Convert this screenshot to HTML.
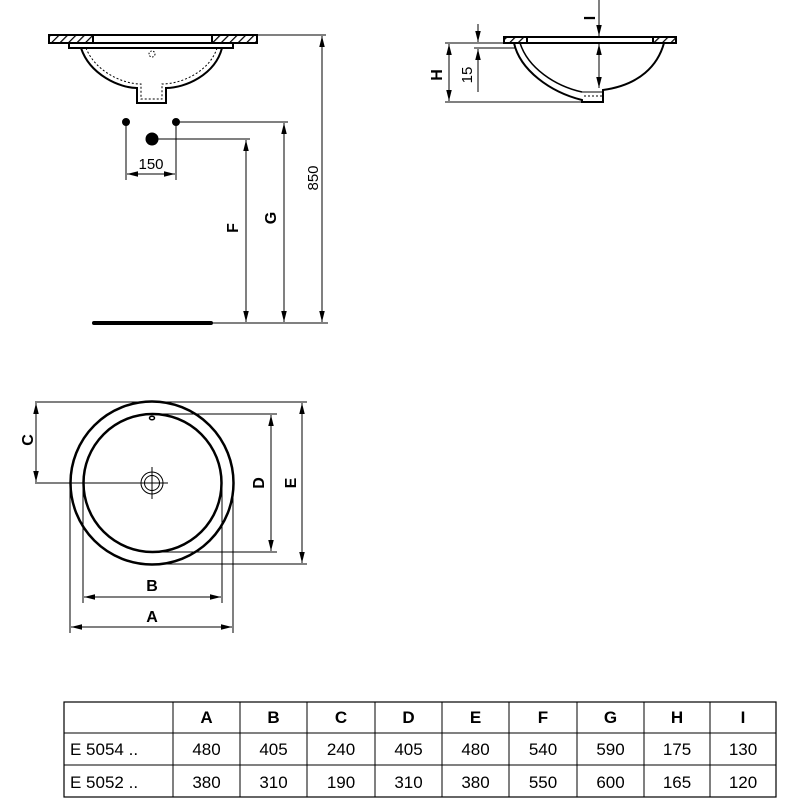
<!DOCTYPE html>
<html><head><meta charset="utf-8"><style>
body{margin:0;background:#fff}
svg{display:block}
text{font-family:"Liberation Sans",sans-serif;fill:#000}
</style></head><body>
<svg width="800" height="800" viewBox="0 0 800 800">
<defs>
<marker id="a" viewBox="0 0 10 10" refX="10" refY="5" markerWidth="11" markerHeight="11" markerUnits="userSpaceOnUse" orient="auto-start-reverse"><path d="M0,2.5 L10,5 L0,7.5 z" fill="#000"/></marker>
<pattern id="h" width="6" height="6" patternUnits="userSpaceOnUse" patternTransform="rotate(45)"><rect width="6" height="6" fill="#fff"/><line x1="0" y1="0" x2="0" y2="6" stroke="#000" stroke-width="2.5"/></pattern>
</defs>
<g stroke="#000" fill="none" stroke-width="1">
<rect x="49" y="35" width="208" height="8" stroke-width="2"/>
<rect x="49" y="35" width="44" height="8" fill="url(#h)" stroke-width="2"/>
<rect x="212" y="35" width="45" height="8" fill="url(#h)" stroke-width="2"/>
<rect x="69" y="43" width="164" height="5" stroke-width="2"/>
<path d="M81,48 C90,75 120,88 137,88 L137,103 L166,103 L166,88 C185,88 215,75 222,48" stroke-width="2"/>
<path d="M86,48 C95,71 122,84 141,84 L141,99 L162,99 L162,84 C182,84 210,71 217,48" stroke-dasharray="2,2"/>
<circle cx="152" cy="54" r="3" stroke-dasharray="1.5,1.5"/>
<circle cx="126" cy="122" r="3.5" fill="#000"/>
<circle cx="176" cy="122" r="3.5" fill="#000"/>
<circle cx="152" cy="139" r="6" fill="#000"/>
<line x1="126" y1="122" x2="126" y2="180"/>
<line x1="176" y1="122" x2="176" y2="180"/>
<line x1="127" y1="174" x2="175" y2="174" marker-start="url(#a)" marker-end="url(#a)"/>
<line x1="176" y1="122" x2="288" y2="122"/>
<line x1="152" y1="139" x2="250" y2="139"/>
<line x1="246" y1="140" x2="246" y2="322" marker-start="url(#a)" marker-end="url(#a)"/>
<line x1="284" y1="123" x2="284" y2="322" marker-start="url(#a)" marker-end="url(#a)"/>
<line x1="322" y1="36" x2="322" y2="322" marker-start="url(#a)" marker-end="url(#a)"/>
<line x1="257" y1="35" x2="326" y2="35"/>
<line x1="211" y1="323" x2="328" y2="323"/>
<line x1="94" y1="323" x2="211" y2="323" stroke-width="4" stroke-linecap="round"/>
<rect x="504" y="37" width="172" height="6" stroke-width="2"/>
<rect x="504" y="37" width="23" height="6" fill="url(#h)" stroke-width="2"/>
<rect x="653" y="37" width="23" height="6" fill="url(#h)" stroke-width="2"/>
<path d="M514,43 C520,70 550,92 582,100 L582,102 L603,102 L603,90 C640,85 658,65 664,43" stroke-width="2"/>
<path d="M520,43 C528,68 555,86 582,92" stroke-width="1.5"/>
<line x1="582" y1="92" x2="603" y2="92"/>
<line x1="584" y1="96" x2="602" y2="96" stroke-dasharray="2,2"/>
<line x1="599" y1="0" x2="599" y2="36" marker-end="url(#a)"/>
<line x1="599" y1="44" x2="599" y2="88" marker-start="url(#a)" marker-end="url(#a)"/>
<line x1="449" y1="44" x2="449" y2="101" marker-start="url(#a)" marker-end="url(#a)"/>
<line x1="478" y1="24" x2="478" y2="42" marker-end="url(#a)"/>
<line x1="478" y1="92" x2="478" y2="49" marker-end="url(#a)"/>
<line x1="445" y1="43" x2="505" y2="43"/>
<line x1="474" y1="48" x2="515" y2="48"/>
<line x1="445" y1="102" x2="590" y2="102"/>
<circle cx="152" cy="483" r="81.5" stroke-width="2.5"/>
<circle cx="152.5" cy="483" r="69" stroke-width="2.5"/>
<ellipse cx="152" cy="418" rx="2.5" ry="1.8" stroke-width="1.5"/>
<circle cx="152" cy="483" r="11"/>
<circle cx="152" cy="483" r="7.5"/>
<line x1="152" y1="467" x2="152" y2="499"/>
<line x1="35" y1="483" x2="168" y2="483"/>
<line x1="35" y1="402" x2="307" y2="402"/>
<line x1="36" y1="403" x2="36" y2="482" marker-start="url(#a)" marker-end="url(#a)"/>
<line x1="152" y1="414" x2="277" y2="414"/>
<line x1="152" y1="552" x2="277" y2="552"/>
<line x1="271" y1="415" x2="271" y2="551" marker-start="url(#a)" marker-end="url(#a)"/>
<line x1="152" y1="564" x2="307" y2="564"/>
<line x1="302" y1="403" x2="302" y2="563" marker-start="url(#a)" marker-end="url(#a)"/>
<line x1="83" y1="483" x2="83" y2="603"/>
<line x1="222" y1="483" x2="222" y2="603"/>
<line x1="84" y1="597" x2="221" y2="597" marker-start="url(#a)" marker-end="url(#a)"/>
<line x1="70" y1="483" x2="70" y2="633"/>
<line x1="233" y1="483" x2="233" y2="633"/>
<line x1="71" y1="627" x2="232" y2="627" marker-start="url(#a)" marker-end="url(#a)"/>
<rect x="64" y="702" width="712" height="95" stroke-width="1.2"/>
<line x1="64" y1="733" x2="776" y2="733"/>
<line x1="64" y1="765" x2="776" y2="765"/>
<line x1="173" y1="702" x2="173" y2="797"/><line x1="240" y1="702" x2="240" y2="797"/>
<line x1="307" y1="702" x2="307" y2="797"/><line x1="375" y1="702" x2="375" y2="797"/>
<line x1="442" y1="702" x2="442" y2="797"/><line x1="509" y1="702" x2="509" y2="797"/>
<line x1="577" y1="702" x2="577" y2="797"/><line x1="644" y1="702" x2="644" y2="797"/>
<line x1="710" y1="702" x2="710" y2="797"/>
</g>
<g font-size="15">
<text x="151" y="169" text-anchor="middle">150</text>
<text transform="translate(318,178) rotate(-90)" text-anchor="middle">850</text>
<text transform="translate(472,75) rotate(-90)" text-anchor="middle">15</text>
</g>
<g font-size="16" font-weight="bold" text-anchor="middle">
<text transform="translate(238,228) rotate(-90)">F</text>
<text transform="translate(276,218) rotate(-90)">G</text>
<text transform="translate(442,75) rotate(-90)">H</text>
<text transform="translate(595,18) rotate(-90)">I</text>
<text transform="translate(33,440) rotate(-90)">C</text>
<text transform="translate(264,483) rotate(-90)">D</text>
<text transform="translate(296,483) rotate(-90)">E</text>
<text x="152" y="591">B</text>
<text x="152" y="622">A</text>
</g>
<g font-size="17" text-anchor="middle">
<g font-weight="bold"><text x="206.5" y="723">A</text><text x="273.5" y="723">B</text><text x="341" y="723">C</text><text x="408.5" y="723">D</text><text x="475.5" y="723">E</text><text x="543" y="723">F</text><text x="610.5" y="723">G</text><text x="677" y="723">H</text><text x="743" y="723">I</text></g>
<text x="70" y="755" text-anchor="start">E 5054 ..</text>
<text x="206.5" y="755">480</text><text x="273.5" y="755">405</text><text x="341" y="755">240</text><text x="408.5" y="755">405</text><text x="475.5" y="755">480</text><text x="543" y="755">540</text><text x="610.5" y="755">590</text><text x="677" y="755">175</text><text x="743" y="755">130</text>
<text x="70" y="788" text-anchor="start">E 5052 ..</text>
<text x="206.5" y="788">380</text><text x="273.5" y="788">310</text><text x="341" y="788">190</text><text x="408.5" y="788">310</text><text x="475.5" y="788">380</text><text x="543" y="788">550</text><text x="610.5" y="788">600</text><text x="677" y="788">165</text><text x="743" y="788">120</text>
</g>
</svg>
</body></html>
